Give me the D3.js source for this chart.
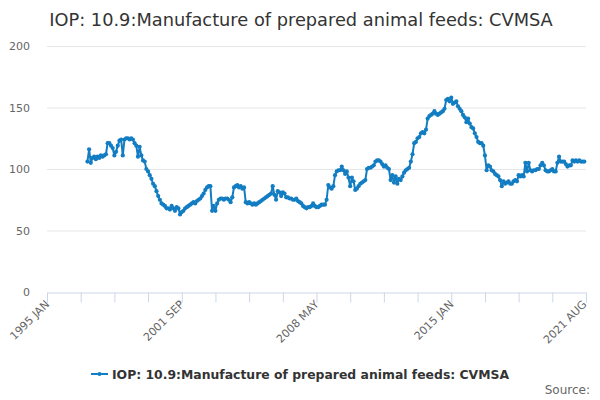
<!DOCTYPE html>
<html>
<head>
<meta charset="utf-8">
<script src="https://cdn.jsdelivr.net/npm/d3@7"></script>
<style>
  body { margin: 0; background: #fff; }
  svg { font-family: "DejaVu Sans", sans-serif; }
</style>
</head>
<body>
<div id="chart"></div>
<script>
const title = "IOP: 10.9:Manufacture of prepared animal feeds: CVMSA";
const seriesName = "IOP: 10.9:Manufacture of prepared animal feeds: CVMSA";
const monthNames = ["JAN", "FEB", "MAR", "APR", "MAY", "JUN", "JUL", "AUG", "SEP", "OCT", "NOV", "DEC"];
const firstYear = 1995;
const lastYear = 2021;
const lastMonth = 7; // AUG
const dataStart = "1997 JAN";
const yTicks = [0, 50, 100, 150, 200];
const xTickLabels = ["1995 JAN", "2001 SEP", "2008 MAY", "2015 JAN", "2021 AUG"];

// monthly values, 1997 JAN .. 2021 AUG
const values1997 = [106, 116, 105, 109, 110, 108, 110, 109, 111, 110, 111, 112];
const values1998 = [121, 121, 119, 117, 111, 114, 119, 123, 124, 111, 124, 125];
const values1999 = [125, 124, 125, 124, 121, 119, 110, 118, 111, 107, 106, 100];
const values2000 = [98, 95, 92, 88, 86, 82, 78, 75, 72, 71, 70, 68];
const values2001 = [68, 67, 70, 68, 66, 69, 68, 63, 65, 66, 68, 69];
const values2002 = [70, 71, 72, 73, 72, 74, 75, 76, 78, 80, 83, 85];
const values2003 = [86, 86, 66, 70, 66, 72, 75, 76, 76, 75, 76, 76];
const values2004 = [75, 73, 77, 85, 86, 87, 85, 86, 84, 85, 73, 72];
const values2005 = [73, 72, 71, 72, 71, 72, 73, 74, 75, 76, 77, 78];
const values2006 = [79, 80, 86, 79, 75, 82, 81, 78, 81, 80, 77, 77];
const values2007 = [76, 76, 75, 75, 76, 74, 73, 72, 70, 69, 68, 69];
const values2008 = [69, 70, 72, 70, 69, 69, 70, 71, 71, 71, 75, 87];
const values2009 = [85, 84, 86, 95, 98, 99, 99, 102, 99, 96, 98, 93];
const values2010 = [86, 93, 90, 83, 84, 86, 88, 89, 90, 91, 100, 101];
const values2011 = [101, 102, 103, 106, 107, 107, 106, 104, 102, 103, 101, 100];
const values2012 = [91, 95, 89, 94, 88, 92, 91, 94, 97, 99, 100, 101];
const values2013 = [106, 112, 121, 122, 125, 126, 129, 130, 129, 132, 141, 143];
const values2014 = [144, 145, 147, 145, 144, 145, 146, 147, 149, 156, 157, 155];
const values2015 = [158, 153, 154, 155, 151, 149, 147, 144, 142, 138, 141, 137];
const values2016 = [134, 133, 129, 126, 122, 121, 121, 119, 111, 99, 103, 102];
const values2017 = [99, 98, 96, 95, 94, 91, 86, 90, 88, 89, 90, 88];
const values2018 = [88, 90, 91, 90, 95, 94, 95, 94, 105, 98, 105, 99];
const values2019 = [98, 99, 99, 100, 100, 103, 105, 103, 99, 98, 98, 99];
const values2020 = [100, 98, 98, 105, 110, 106, 106, 106, 104, 102, 103, 103];
const values2021 = [107, 106, 107, 106, 107, 106, 106, 106];

const values = [].concat(values1997, values1998, values1999, values2000, values2001,
  values2002, values2003, values2004, values2005, values2006, values2007, values2008,
  values2009, values2010, values2011, values2012, values2013, values2014, values2015,
  values2016, values2017, values2018, values2019, values2020, values2021);

// category list for the whole axis
const categories = [];
for (let y = firstYear; y <= lastYear; y++) {
  for (let m = 0; m < 12; m++) {
    if (y === lastYear && m > lastMonth) break;
    categories.push(`${y} ${monthNames[m]}`);
  }
}
const startIndex = categories.indexOf(dataStart);
const data = values.map((v, i) => ({ i: startIndex + i, v }));

const width = 600, height = 400;
const margin = { top: 46, right: 14, bottom: 108, left: 47 };

const svg = d3.select("#chart").append("svg")
  .attr("width", width)
  .attr("height", height);

const x = d3.scaleLinear()
  .domain([0, categories.length])
  .range([margin.left, width - margin.right]);
const y = d3.scaleLinear()
  .domain([0, 200])
  .range([height - margin.bottom, margin.top]);

// title
svg.append("text")
  .attr("x", 301)
  .attr("y", 26)
  .attr("text-anchor", "middle")
  .style("font-size", "17.8px")
  .style("fill", "#333")
  .text(title);

// grid lines
svg.append("g")
  .selectAll("line")
  .data(yTicks.filter(d => d > 0))
  .enter().append("line")
    .attr("x1", x.range()[0])
    .attr("x2", x.range()[1])
    .attr("y1", d => y(d) + 0.5)
    .attr("y2", d => y(d) + 0.5)
    .attr("stroke", "#e6e6e6");

// y labels
svg.append("g")
  .selectAll("text")
  .data(yTicks)
  .enter().append("text")
    .attr("x", 30)
    .attr("y", d => y(d) + 4)
    .attr("text-anchor", "end")
    .style("font-size", "11px")
    .style("fill", "#666")
    .text(d => d);

// x axis
const xAxis = d3.axisBottom(x)
  .tickValues(d3.range(0, categories.length + 1, 20))
  .tickSize(10)
  .tickFormat("");

const gx = svg.append("g")
  .attr("transform", `translate(0,${y(0) + 0.5})`)
  .call(xAxis);
gx.select(".domain").attr("stroke", "#ccd6eb");
gx.selectAll(".tick line").attr("stroke", "#ccd6eb");

svg.append("g")
  .selectAll("text")
  .data(xTickLabels)
  .enter().append("text")
    .attr("transform", d => `translate(${x(categories.indexOf(d)) + 3},${y(0) + 13}) rotate(-45)`)
    .attr("text-anchor", "end")
    .style("font-size", "11px")
    .style("fill", "#666")
    .text(d => d);

// series line
const line = d3.line()
  .x(d => x(d.i))
  .y(d => y(d.v));

const color = "#127dc2";

svg.append("path")
  .datum(data)
  .attr("fill", "none")
  .attr("stroke", color)
  .attr("stroke-width", 2)
  .attr("stroke-linejoin", "round")
  .attr("d", line);

svg.append("g")
  .selectAll("circle")
  .data(data)
  .enter().append("circle")
    .attr("cx", d => x(d.i))
    .attr("cy", d => y(d.v))
    .attr("r", 2.1)
    .attr("fill", color);

// legend
const legend = svg.append("g").attr("transform", "translate(91,374)");
legend.append("line")
  .attr("x1", 0).attr("x2", 17)
  .attr("stroke", color)
  .attr("stroke-width", 2);
legend.append("circle")
  .attr("cx", 8.5).attr("r", 2)
  .attr("fill", color);
legend.append("text")
  .attr("x", 21)
  .attr("y", 4.5)
  .style("font-size", "12.4px")
  .style("font-weight", "bold")
  .style("fill", "#333")
  .text(seriesName);

// credits
svg.append("text")
  .attr("x", 590)
  .attr("y", 394)
  .attr("text-anchor", "end")
  .style("font-size", "12px")
  .style("fill", "#666")
  .text("Source:");
</script>
</body>
</html>
